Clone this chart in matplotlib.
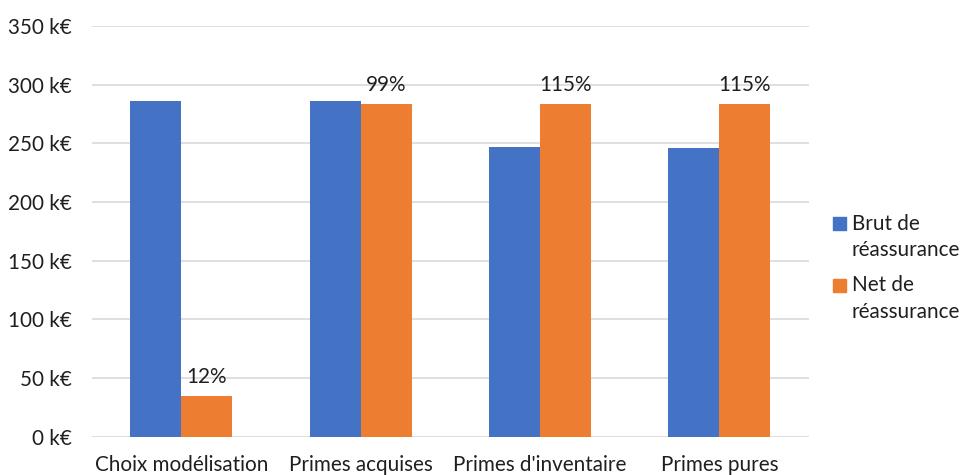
import matplotlib
matplotlib.use("Agg")
import matplotlib.pyplot as plt
import numpy as np
from matplotlib.patches import Rectangle

# Data (k€)
categories = ["Choix modélisation", "Primes acquises", "Primes d'inventaire", "Primes pures"]
brut = [286.4, 286.4, 247.2, 246.3]
net = [35.0, 283.6, 283.6, 283.6]
series_names = ["Brut de\nréassurance", "Net de\nréassurance"]
yticks = [0, 50, 100, 150, 200, 250, 300, 350]

BLUE = "#4472C4"
ORANGE = "#ED7D31"
GRID = "#D9D9D9"
TXT = "#1F1F1F"

plt.rcParams["font.family"] = ["Lato", "DejaVu Sans"]
FS = 14.9

fig = plt.figure(figsize=(9.63, 4.75), dpi=100)
W, H = 963, 475
ax = fig.add_axes([91.7 / W, 1 - 436.7 / H, (809 - 91.7) / W, (436.7 - 26) / H])

x = np.arange(len(categories))
bw = 0.285
ax.bar(x - bw / 2, brut, bw, color=BLUE, zorder=3)
ax.bar(x + bw / 2, net, bw, color=ORANGE, zorder=3)

# ratio net / brut above each net bar
for i, (b, n) in enumerate(zip(brut, net)):
    ax.annotate(f"{n / b * 100:.0f}%", xy=(x[i] + bw / 2, n), xytext=(0, 9),
                textcoords="offset points", ha="center", va="baseline",
                fontsize=FS, color=TXT)

ax.set_xlim(-0.5, len(categories) - 0.5)
ax.set_ylim(0, 350)
ax.set_yticks(yticks)
ax.set_yticklabels([f"{v} k€" for v in yticks])
ax.set_xticks(x)
ax.set_xticklabels(categories)
ax.tick_params(axis="y", length=0, pad=14.4, labelsize=FS, labelcolor=TXT)
ax.tick_params(axis="x", length=0, pad=13, labelsize=FS, labelcolor=TXT)
ax.grid(axis="y", color=GRID, linewidth=1.2, zorder=0)
for s in ax.spines.values():
    s.set_visible(False)

# legend: colour squares with two-line labels
colors = [BLUE, ORANGE]
ys = [223.5, 285.3]
for c, yc, name in zip(colors, ys, series_names):
    fig.add_artist(Rectangle((833 / W, 1 - (yc + 6.3) / H), 12.7 / W, 12.6 / H,
                             transform=fig.transFigure, color=c))
    for k, ln in enumerate(name.split("\n")):
        fig.text(851.7 / W, 1 - (yc + 26.5 * k) / H, ln, ha="left", va="center",
                 fontsize=FS, color=TXT)

fig.savefig("out.png", dpi=100, facecolor="white")
